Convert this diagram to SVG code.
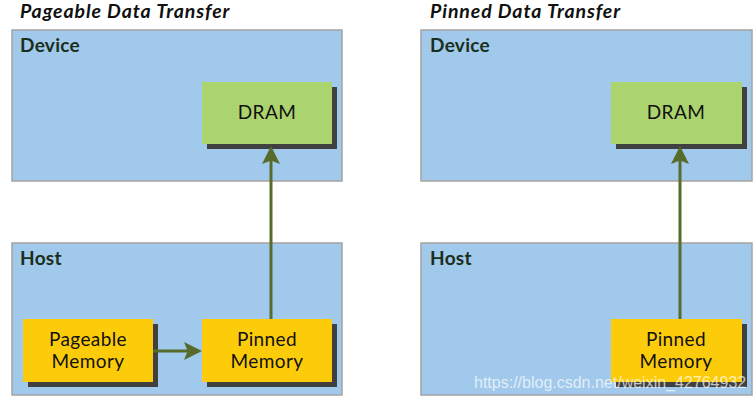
<svg xmlns="http://www.w3.org/2000/svg" width="756" height="401" viewBox="0 0 756 401">
<defs>
<style>
.bg{fill:#ffffff}
.panel{fill:#a1c9eb;stroke:#a3a3a3;stroke-width:1.5}
.shadow{fill:#404040}
.dram{fill:#acd46e}
.mem{fill:#fccc0a}
.title{font-family:Lato,"Open Sans",sans-serif;font-size:19.5px;font-weight:bold;font-style:italic;fill:#111;letter-spacing:0.9px}
.plabel{font-family:Lato,"Open Sans",sans-serif;font-size:19px;font-weight:bold;fill:#1b2f1b;letter-spacing:0.3px}
.nlabel{font-family:Lato,"Open Sans",sans-serif;font-size:19px;fill:#111;text-anchor:middle;letter-spacing:0.4px}
.conn{stroke:#566b2c;stroke-width:3;fill:none}
.wm{font-family:"Liberation Sans",Arial,sans-serif;font-size:16px;fill:#ffffff;fill-opacity:0.7}
</style>
<marker id="ah" markerWidth="6" markerHeight="6" refX="5" refY="3" orient="auto" markerUnits="strokeWidth">
<path d="M0,0 L6,3 L0,6 L1.2,3 Z" fill="#566b2c"/>
</marker>
</defs>
<rect class="bg" x="0" y="0" width="756" height="401"/>
<text class="title" x="20" y="18">Pageable Data Transfer</text>
<text class="title" x="430" y="18">Pinned Data Transfer</text>

<g id="device-left">
<rect class="panel" x="12" y="30" width="330" height="151"/>
<text class="plabel" x="20" y="52">Device</text>
</g>
<g id="host-left">
<rect class="panel" x="12" y="243" width="330" height="152"/>
<text class="plabel" x="20" y="265">Host</text>
</g>
<g id="device-right">
<rect class="panel" x="421" y="30" width="331" height="151"/>
<text class="plabel" x="430" y="52">Device</text>
</g>
<g id="host-right">
<rect class="panel" x="421" y="243" width="331" height="152"/>
<text class="plabel" x="430" y="265">Host</text>
</g>

<g id="dram-left">
<rect class="shadow" x="207" y="87" width="130" height="62"/>
<rect class="dram" x="202" y="82" width="130" height="62"/>
<text class="nlabel" x="267" y="119">DRAM</text>
</g>
<g id="pageable-left">
<rect class="shadow" x="28" y="324" width="130" height="63"/>
<rect class="mem" x="23" y="319" width="130" height="63"/>
<text class="nlabel" x="88" y="346">Pageable</text>
<text class="nlabel" x="88" y="368">Memory</text>
</g>
<g id="pinned-left">
<rect class="shadow" x="207" y="324" width="130" height="63"/>
<rect class="mem" x="202" y="319" width="130" height="63"/>
<text class="nlabel" x="267" y="346">Pinned</text>
<text class="nlabel" x="267" y="368">Memory</text>
</g>
<g id="dram-right">
<rect class="shadow" x="616" y="87" width="131" height="62"/>
<rect class="dram" x="611" y="82" width="131" height="62"/>
<text class="nlabel" x="676" y="119">DRAM</text>
</g>
<g id="pinned-right">
<rect class="shadow" x="616" y="324" width="131" height="63"/>
<rect class="mem" x="611" y="319" width="131" height="63"/>
<text class="nlabel" x="676" y="346">Pinned</text>
<text class="nlabel" x="676" y="368">Memory</text>
</g>

<g id="connectors">
<line class="conn" x1="271" y1="319" x2="271" y2="149" marker-end="url(#ah)"/>
<line class="conn" x1="153" y1="351" x2="199" y2="351" marker-end="url(#ah)"/>
<line class="conn" x1="680" y1="319" x2="680" y2="149" marker-end="url(#ah)"/>
</g>

<text class="wm" x="474" y="388">https://blog.csdn.net/weixin_42764932</text>
</svg>
